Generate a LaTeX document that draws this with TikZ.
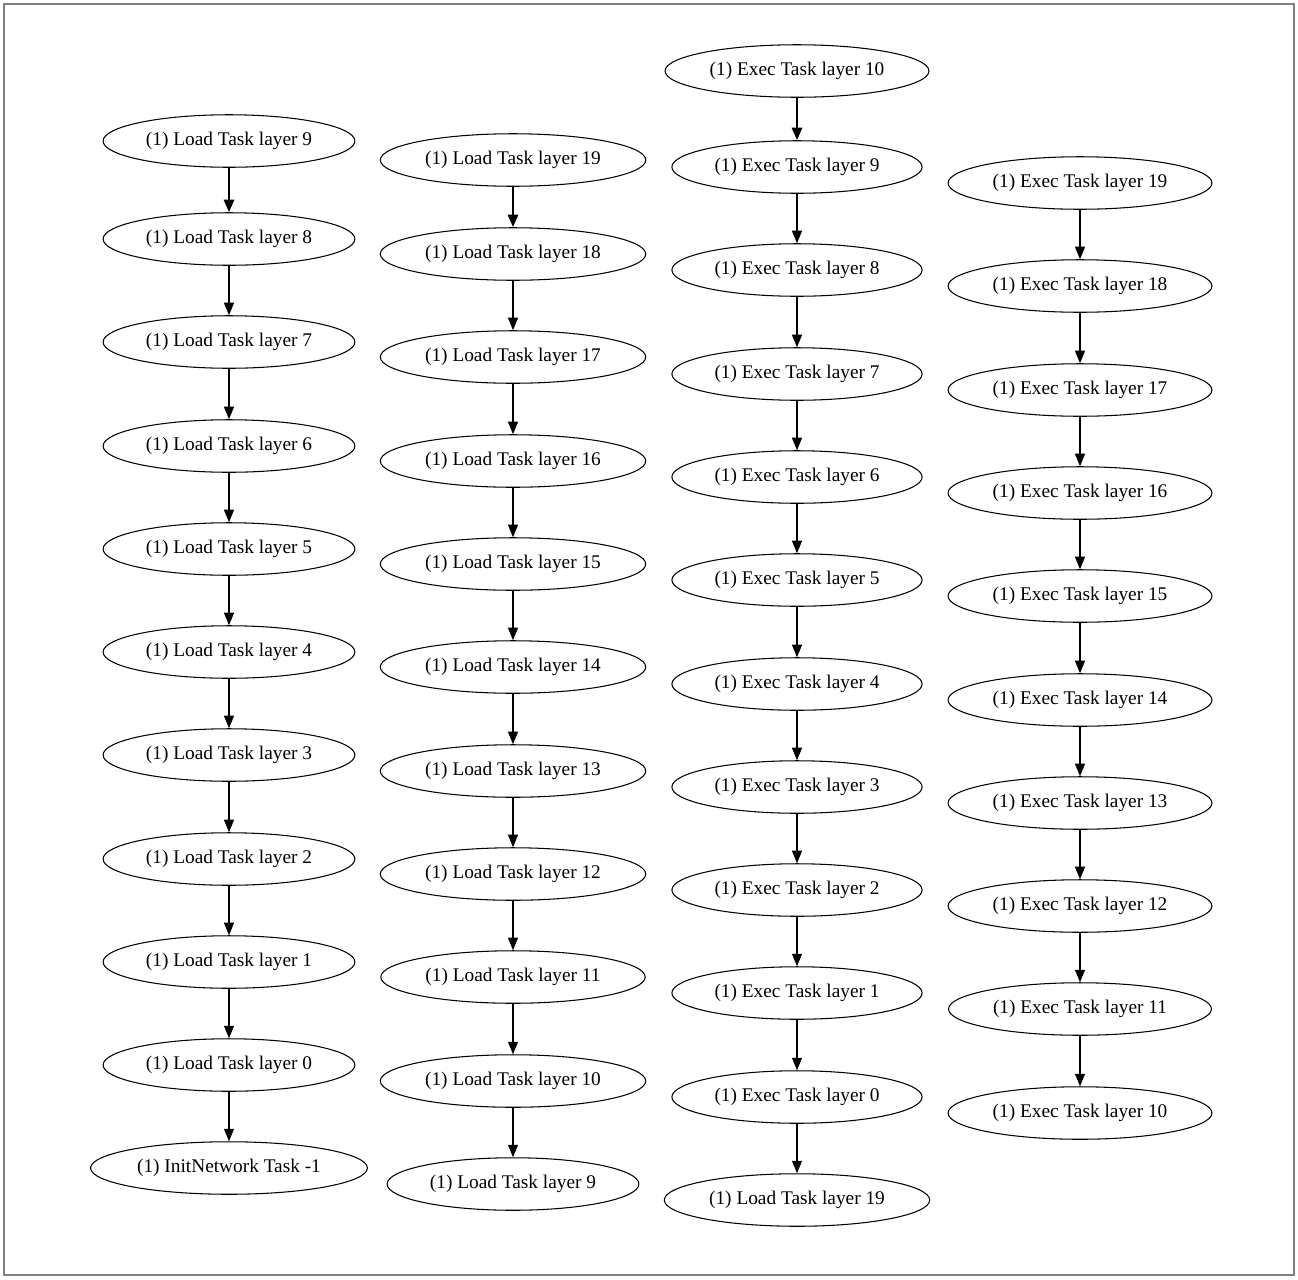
\documentclass[tikz,border=0pt]{standalone}
\usepackage{fontspec}
\setmainfont{Liberation Serif}
\usetikzlibrary{arrows.meta,shapes.geometric}
\tikzset{task/.style={draw,ellipse,line width=0.6pt,inner xsep=3.4pt,minimum height=1.05cm,font=\fontsize{11}{13}\selectfont},
dep/.style={-{Triangle[length=0.25cm,width=0.2cm]},line width=0.6pt},
firstdep/.style={dep,line width=1.6pt}}
\begin{document}
\begin{tikzpicture}[x=0.02cm,y=-0.02cm]
\useasboundingbox(0,0)rectangle(1298,1279);
\draw[gray,line width=1pt](4,4)rectangle(1294,1275);
% column a: load 9..0
\foreach \l/\y in {9/141,8/239,7/342,6/446,5/549,4/652,3/755,2/859,1/962,0/1065}
  \node[task](a\l) at (229,\y){(1) Load Task layer \l};
\node[task](ainit) at (229,1168){(1) InitNetwork Task -1};
% column b: load 19..10
\foreach \l/\y in {19/160,18/254,17/357,16/461,15/564,14/667,13/771,12/874,11/977,10/1081}
  \node[task](b\l) at (513,\y){(1) Load Task layer \l};
\node[task](bload) at (513,1184){(1) Load Task layer 9};
% column c: exec 10..0
\foreach \l/\y in {10/71,9/167,8/270,7/374,6/477,5/580,4/684,3/787,2/890,1/993,0/1097}
  \node[task](c\l) at (797,\y){(1) Exec Task layer \l};
\node[task](cload) at (797,1200){(1) Load Task layer 19};
% column d: exec 19..10
\foreach \l/\y in {19/183,18/286,17/390,16/493,15/596,14/700,13/803,12/906,11/1009,10/1113}
  \node[task](d\l) at (1080,\y){(1) Exec Task layer \l};
% edges
\draw[firstdep](a9)--(a8);
\foreach \i in {8,...,1}{\pgfmathtruncatemacro\j{\i-1}\draw[dep](a\i)--(a\j);}
\draw[dep](a0)--(ainit);
\draw[firstdep](b19)--(b18);
\foreach \i in {18,...,11}{\pgfmathtruncatemacro\j{\i-1}\draw[dep](b\i)--(b\j);}
\draw[dep](b10)--(bload);
\draw[firstdep](c10)--(c9);
\foreach \i in {9,...,1}{\pgfmathtruncatemacro\j{\i-1}\draw[dep](c\i)--(c\j);}
\draw[dep](c0)--(cload);
\foreach \i in {19,...,11}{\pgfmathtruncatemacro\j{\i-1}\draw[dep](d\i)--(d\j);}
\end{tikzpicture}
\end{document}
